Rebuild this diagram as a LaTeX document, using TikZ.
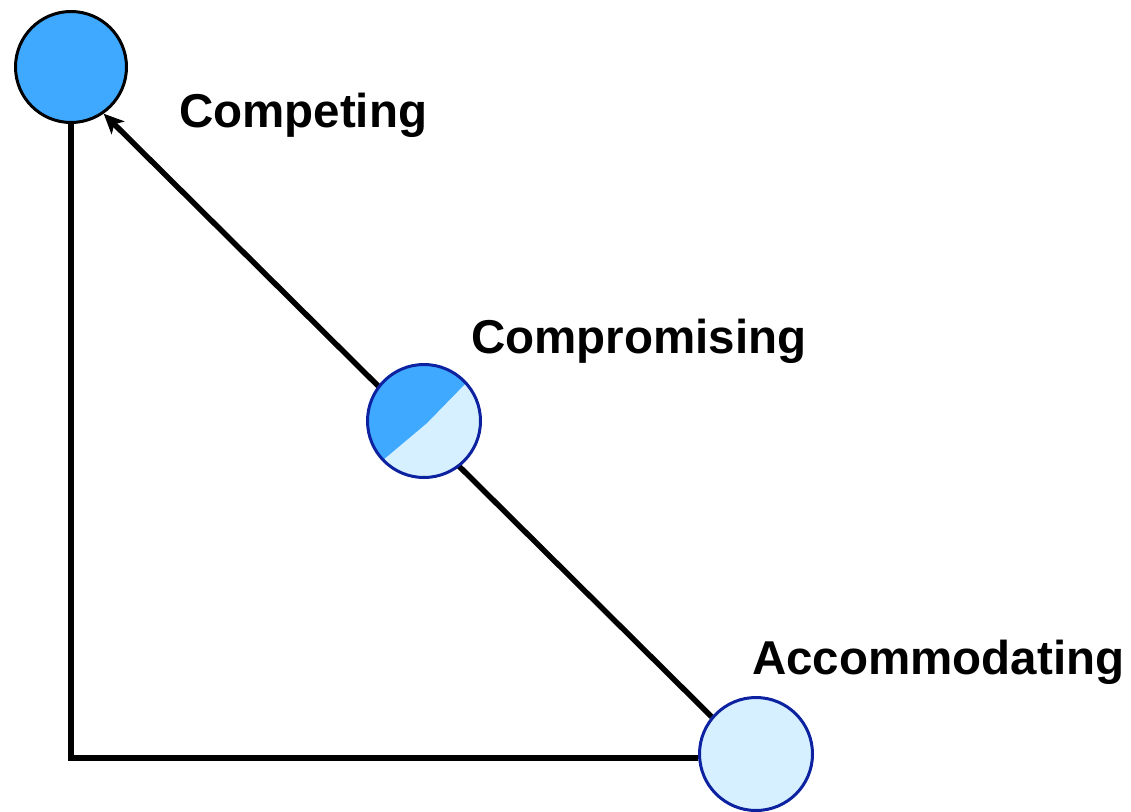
\documentclass[tikz,border=0pt]{standalone}
\usepackage{fontspec}
\setmainfont{Liberation Sans}
\usetikzlibrary{arrows.meta,backgrounds}
\definecolor{strongblue}{RGB}{63,169,255}
\definecolor{paleblue}{RGB}{214,240,255}
\definecolor{navyline}{RGB}{12,34,160}
\begin{document}
\begin{tikzpicture}[x=1pt,y=-1pt,
  stylecircle/.style={circle, inner sep=0pt, line width=3pt},
  label text/.style={anchor=base west, inner sep=0pt, font=\fontsize{47.5}{52}\selectfont\bfseries},
  connector/.style={line width=5.5pt, draw=black}]
\useasboundingbox (0,0) rectangle (1131,811);
% circles
\node[stylecircle, minimum size=111pt, fill=strongblue, draw=black] (comp) at (71,67) {};
\node[stylecircle, minimum size=113pt, fill=paleblue, draw=navyline,
  path picture={
    \fill[strongblue] ([shift={(-85pt,-76pt)}]path picture bounding box.center)
      -- ([shift={(-41pt,-39pt)}]path picture bounding box.center)
      -- ([shift={(3pt,-2pt)}]path picture bounding box.center)
      -- ([shift={(42pt,38pt)}]path picture bounding box.center)
      -- ([shift={(81pt,78pt)}]path picture bounding box.center)
      -- ([shift={(-85pt,78pt)}]path picture bounding box.center) -- cycle;
  }] (mid) at (424,421) {};
\node[stylecircle, minimum size=113pt, fill=paleblue, draw=navyline] (acc) at (756,754) {};
% labels
\node[label text] (lcomp) at (179,127) {Competing};
\node[label text] (lmid) at (471,353) {Compromising};
\node[label text] (lacc) at (752,674) {Accommodating};
% connectors
\begin{scope}[on background layer]
  \draw[connector, line width=6pt] (comp.south) |- ([yshift=-4pt]acc.west);
  \draw[connector, -{Stealth[length=20pt,width=18pt,inset=5pt]}] (acc.140) -- (comp.305);
\end{scope}
\end{tikzpicture}
\end{document}
